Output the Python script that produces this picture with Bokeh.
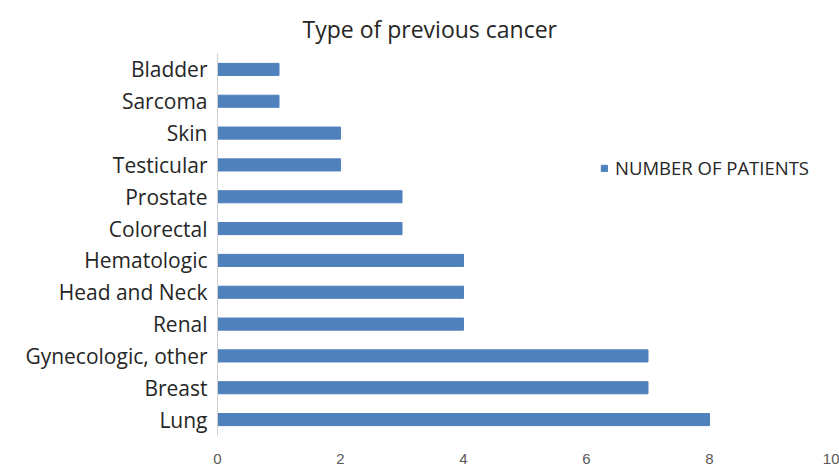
from bokeh.plotting import figure
from bokeh.models import FactorRange, Range1d, Legend, LegendItem, FixedTicker
from bokeh.embed import file_html
from bokeh.resources import INLINE

categories = ["Lung", "Breast", "Gynecologic, other", "Renal", "Head and Neck",
              "Hematologic", "Colorectal", "Prostate", "Testicular", "Skin",
              "Sarcoma", "Bladder"]
patients = [8, 7, 7, 4, 4, 4, 3, 3, 2, 2, 1, 1]
x_ticks = [0, 2, 4, 6, 8, 10]
series_name = "NUMBER OF PATIENTS"
title_text = "Type of previous cancer"

BAR = "#4F81BD"
TXT = "#262626"
FRAME = "#d0d0d0"

p = figure(width=839, height=466, output_backend="svg", toolbar_location=None,
           y_range=FactorRange(factors=categories, range_padding=0),
           x_range=Range1d(0, 10),
           min_border_left=217, min_border_right=7, min_border_top=53, min_border_bottom=30)

r = p.hbar(y=categories, right=patients, left=0, height=0.38, color=BAR)

p.title.text = title_text
p.title.align = "left"
p.title.offset = 85
p.title.text_font = "Open Sans"
p.title.text_font_style = "normal"
p.title.text_font_size = "23px"
p.title.text_color = TXT
p.title.standoff = 18

p.outline_line_color = None
p.xgrid.grid_line_color = None
p.ygrid.grid_line_color = None
p.background_fill_color = "white"
p.border_fill_color = "white"

# x axis
p.xaxis.ticker = FixedTicker(ticks=x_ticks)
p.xaxis.axis_line_color = None
p.xaxis.major_tick_line_color = None
p.xaxis.minor_tick_line_color = None
p.xaxis.major_label_standoff = 12
p.xaxis.major_label_text_font = "Liberation Sans"
p.xaxis.major_label_text_font_size = "15px"
p.xaxis.major_label_text_color = "#595959"

# y axis
p.yaxis.axis_line_color = FRAME
p.yaxis.major_tick_line_color = None
p.yaxis.minor_tick_line_color = None
p.yaxis.major_label_standoff = 4
p.yaxis.major_label_text_font = "Open Sans"
p.yaxis.major_label_text_font_size = "21px"
p.yaxis.major_label_text_color = TXT

legend = Legend(items=[LegendItem(label=series_name, renderers=[r])],
                location=(383, 255), orientation="vertical",
                glyph_width=8, glyph_height=8, label_standoff=7,
                padding=0, margin=0, spacing=0,
                label_text_font="Open Sans", label_text_font_size="18.5px",
                label_text_color=TXT, border_line_color=None,
                background_fill_alpha=0)
p.add_layout(legend, "center")

open("out.html", "w").write(file_html(p, INLINE))
